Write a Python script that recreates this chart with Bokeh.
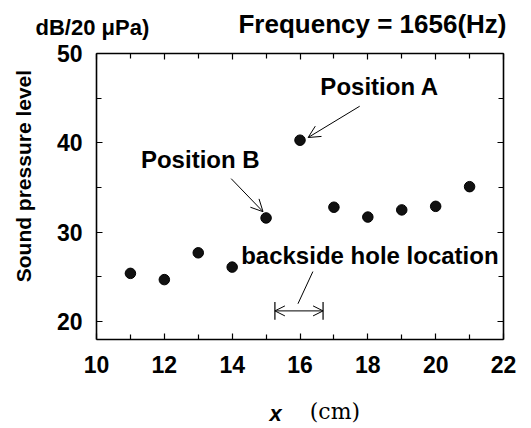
from bokeh.plotting import figure
from bokeh.models import (Range1d, LinearAxis, FixedTicker, Label, Arrow, OpenHead,
                          ColumnDataSource, Title)
from bokeh.embed import file_html
from bokeh.resources import INLINE

# ---- data ----
positions_cm = [11, 12, 13, 14, 15, 16, 17, 18, 19, 20, 21]
spl_db = [25.4, 24.7, 27.7, 26.1, 31.6, 40.3, 32.8, 31.7, 32.5, 32.9, 35.1]

x_ticks_major = [10, 12, 14, 16, 18, 20, 22]
x_ticks_minor = [11, 13, 15, 17, 19, 21]
y_ticks_major = [20, 30, 40, 50]
y_ticks_minor = [25, 35, 45]

# annotation anchors (data coords)
hole_start, hole_end, hole_y = 15.26, 16.68, 21.2

FONT = "Liberation Sans"
NB = "\u00a0"

p = figure(width=531, height=428, output_backend="svg", toolbar_location=None,
           x_range=Range1d(10, 22), y_range=Range1d(18, 50),
           min_border_left=96, min_border_right=28, min_border_top=53, min_border_bottom=87,
           x_axis_type=None, y_axis_type=None)
p.background_fill_color = "white"
p.border_fill_color = "white"
p.outline_line_color = None
p.xgrid.visible = False
p.ygrid.visible = False

# top texts as titles
p.title.text = "Frequency = 1656(Hz)"
p.title.align = "right"
p.title.offset = -3
p.title.text_font = FONT
p.title.text_font_style = "bold"
p.title.text_font_size = "26px"
p.title.text_color = "black"
p.title.standoff = -72

xt = FixedTicker(ticks=x_ticks_major, minor_ticks=x_ticks_minor)
yt = FixedTicker(ticks=y_ticks_major, minor_ticks=y_ticks_minor)

def style(ax, show_labels):
    ax.axis_line_color = "black"
    ax.axis_line_width = 1.6
    ax.major_tick_in = 6
    ax.major_tick_out = 0
    ax.minor_tick_in = 5
    ax.minor_tick_out = 0
    ax.major_tick_line_color = "black"
    ax.minor_tick_line_color = "black"
    ax.major_tick_line_width = 1.2
    ax.minor_tick_line_width = 1.2
    ax.axis_label_text_color = "black"
    if show_labels:
        ax.major_label_text_font = FONT
        ax.major_label_text_font_style = "bold"
        ax.major_label_text_font_size = "23px"
        ax.major_label_text_color = "black"
    else:
        ax.major_label_text_font_size = "0px"
        ax.major_label_text_alpha = 0

bx = LinearAxis(ticker=xt)
style(bx, True)
bx.major_label_standoff = 16
bx.axis_label = "x" + NB * 8
bx.axis_label_text_font = FONT
bx.axis_label_text_font_style = "bold italic"
bx.axis_label_text_font_size = "22px"
bx.axis_label_standoff = 25
p.add_layout(bx, "below")

bx2 = LinearAxis(ticker=FixedTicker(ticks=[]))
bx2.axis_line_color = None
bx2.major_tick_line_color = None
bx2.minor_tick_line_color = None
bx2.major_label_text_font_size = "0px"
bx2.axis_label = NB * 10 + "(cm)"
bx2.axis_label_text_font = "DejaVu Serif"
bx2.axis_label_text_font_style = "normal"
bx2.axis_label_text_font_size = "22px"
bx2.axis_label_text_color = "black"
bx2.axis_label_standoff = -30
p.add_layout(bx2, "below")

tx = LinearAxis(ticker=xt)
style(tx, False)
p.add_layout(tx, "above")

t2 = Title(text="dB/20 \u03bcPa)", align="left", offset=-61, text_font=FONT,
           text_font_style="bold", text_font_size="22px", text_color="black",
           vertical_align="top", standoff=24)
p.add_layout(t2, "above")

ly = LinearAxis(ticker=yt)
style(ly, True)
ly.major_label_standoff = 14
ly.axis_label = NB * 7 + "Sound pressure level"
ly.axis_label_text_font = FONT
ly.axis_label_text_font_style = "bold"
ly.axis_label_text_font_size = "21px"
ly.axis_label_standoff = 19
p.add_layout(ly, "left")
ry = LinearAxis(ticker=yt)
style(ry, False)
p.add_layout(ry, "right")

# data points
src = ColumnDataSource(dict(x=positions_cm, y=spl_db))
p.scatter("x", "y", source=src, size=10.5, fill_color="#111111", line_color="black")

def lab(text, x, y, size):
    p.add_layout(Label(x=x, y=y, text=text, text_font=FONT, text_font_style="bold",
                       text_font_size=size, text_align="center", text_baseline="middle",
                       text_color="black"))

lab("Position A", 18.35, 46.28, "24px")
lab("Position B", 13.06, 38.1, "24px")
lab("backside hole location", 18.06, 27.44, "24px")

# arrows
p.add_layout(Arrow(end=OpenHead(size=12, line_width=1), x_start=17.76, y_start=44.1,
                   x_end=16.24, y_end=40.6, line_width=1))
p.add_layout(Arrow(end=OpenHead(size=12, line_width=1), x_start=13.97, y_start=36.0,
                   x_end=14.91, y_end=32.3, line_width=1))
p.segment(x0=[16.38], y0=[25.6], x1=[15.94], y1=[22.0], line_color="black", line_width=1)
p.add_layout(Arrow(start=OpenHead(size=10, line_width=1), end=OpenHead(size=10, line_width=1),
                   x_start=hole_start, y_start=hole_y, x_end=hole_end, y_end=hole_y, line_width=1))
p.segment(x0=[hole_start, hole_end], y0=[hole_y - 1.0, hole_y - 1.0],
          x1=[hole_start, hole_end], y1=[hole_y + 1.0, hole_y + 1.0],
          line_color="black", line_width=1.2)

open("out.html", "w").write(file_html(p, INLINE))
